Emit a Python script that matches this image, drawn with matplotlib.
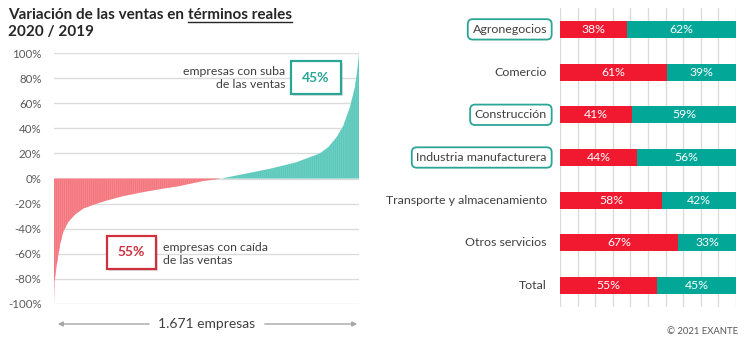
import matplotlib
matplotlib.use("Agg")
import matplotlib.pyplot as plt
from matplotlib.patches import Rectangle, FancyArrowPatch
from matplotlib.lines import Line2D
import numpy as np

plt.rcParams['font.family'] = ['Lato', 'DejaVu Sans']

# ---- Left panel: sales variation 2020/2019 per company, sorted ----
n_companies = 1671
rank = [0, 3, 15, 33, 51, 78, 115, 160, 215, 289, 380, 489, 599, 681, 816, 919,
        1005, 1090, 1183, 1256, 1330, 1403, 1457, 1503, 1549, 1585, 1622, 1649, 1664, 1671]
variation = [-100, -82, -69, -53, -42.5, -34.7, -28.8, -24, -21, -17.5, -14, -10.8, -8, -6.2, -2, 0,
             2.5, 5, 7.7, 10.3, 13, 17, 20, 25, 33, 42, 57, 73, 89, 100]
share_down = 55
share_up = 45
y_ticks = [-100, -80, -60, -40, -20, 0, 20, 40, 60, 80, 100]

# ---- Right panel: share of companies with falling / rising sales by sector ----
sectors = ["Agronegocios", "Comercio", "Construcción", "Industria manufacturera",
           "Transporte y almacenamiento", "Otros servicios", "Total"]
pct_down = [38, 61, 41, 44, 58, 67, 55]
pct_up = [62, 39, 59, 56, 42, 33, 45]
highlighted = ["Agronegocios", "Construcción", "Industria manufacturera"]

RED_L = "#F4767E"
RED_L_STRIPE = "#F68D93"
TEAL_L = "#5CC8BB"
TEAL_L_STRIPE = "#74D2C6"
RED = "#F0192F"
TEAL = "#02A797"
BOX_TEAL = "#2BA596"
BOX_RED = "#D02F3D"
GRID = "#DCDCDC"
TXT = "#404040"
TICK = "#595959"

W, H = 756, 345
fig = plt.figure(figsize=(W / 100, H / 100), dpi=100)


def fx(px):
    return px / W


def fy(py):
    return 1 - py / H


# Left axes
axL = fig.add_axes([fx(54), fy(304), fx(359) - fx(54), fy(53) - fy(304)])
axL.set_xlim(0, n_companies)
axL.set_ylim(-100, 100)
for yv in y_ticks:
    axL.axhline(yv, color=GRID, lw=1.0, zorder=0)
split = variation.index(0)
plt.rcParams['hatch.linewidth'] = 0.5
axL.fill_between(rank[:split + 1], variation[:split + 1], 0, facecolor=RED_L,
                 edgecolor=RED_L_STRIPE, hatch="||||||||", lw=0, zorder=2)
axL.fill_between(rank[split:], variation[split:], 0, facecolor=TEAL_L,
                 edgecolor=TEAL_L_STRIPE, hatch="||||||||", lw=0, zorder=2)
axL.set_yticks(y_ticks)
axL.set_yticklabels([f"{v}%" for v in y_ticks], fontsize=8.3, color=TICK)
axL.tick_params(axis='y', length=0, pad=9)
axL.set_xticks([])
for s in axL.spines.values():
    s.set_visible(False)

# Title with underlined part
TITLE_FS = 11
t1 = fig.text(fx(8), fy(19), "Variación de las ventas en", fontsize=TITLE_FS,
              fontweight='bold', color="#262626", va='baseline')
fig.text(fx(8), fy(36), "2020 / 2019", fontsize=TITLE_FS, fontweight='bold',
         color="#262626", va='baseline')
fig.canvas.draw()
renderer = fig.canvas.get_renderer()
bb1 = t1.get_window_extent(renderer)
t2 = fig.text((bb1.x1 + 4) / W, fy(19), "términos reales", fontsize=TITLE_FS,
              fontweight='bold', color="#262626", va='baseline')
fig.canvas.draw()
bb2 = t2.get_window_extent(renderer)
fig.add_artist(Line2D([bb2.x0 / W, bb2.x1 / W], [fy(21.5), fy(21.5)],
                      transform=fig.transFigure, color="#262626", lw=1.0))


def callout_box(x0, y0, x1, y1, color, label):
    shadow = Rectangle((fx(x0 + 2), fy(y1 + 2)), fx(x1) - fx(x0), fy(y0) - fy(y1),
                       transform=fig.transFigure, facecolor="#000000", alpha=0.12,
                       edgecolor='none', zorder=5)
    box = Rectangle((fx(x0), fy(y1)), fx(x1) - fx(x0), fy(y0) - fy(y1),
                    transform=fig.transFigure, facecolor="white", edgecolor=color,
                    lw=1.6, zorder=6)
    fig.add_artist(shadow)
    fig.add_artist(box)
    fig.text(fx((x0 + x1) / 2), fy((y0 + y1) / 2), label, color=color,
             fontsize=10, fontweight='bold', ha='center', va='center', zorder=7)


callout_box(291, 61, 341, 94, BOX_TEAL, f"{share_up}%")
fig.text(fx(285), fy(78), "empresas con suba\nde las ventas", fontsize=8.8,
         color=TXT, ha='right', va='center', linespacing=1.25)
callout_box(107, 236, 156, 269, BOX_RED, f"{share_down}%")
fig.text(fx(163), fy(254), "empresas con caída\nde las ventas", fontsize=8.8,
         color=TXT, ha='left', va='center', linespacing=1.25)

# Count arrow under the left panel
fig.text(fx(207), fy(324), f"{n_companies:,}".replace(",", ".") + " empresas",
         fontsize=10, color=TXT, ha='center', va='center')
arrow_kw = dict(arrowstyle="-|>", color="#A6A6A6", lw=1.0, mutation_scale=7)
fig.add_artist(FancyArrowPatch((fx(152), fy(324)), (fx(55), fy(324)),
                               transform=fig.transFigure, **arrow_kw))
fig.add_artist(FancyArrowPatch((fx(262), fy(324)), (fx(360), fy(324)),
                               transform=fig.transFigure, **arrow_kw))

# Right axes
axR = fig.add_axes([fx(560), fy(307), fx(736) - fx(560), fy(8) - fy(307)])
axR.set_xlim(0, 100)
axR.set_ylim(len(sectors) - 0.5, -0.5)
for xv in range(0, 101, 10):
    axR.axvline(xv, color=GRID, lw=1.0, zorder=0)
ypos = np.arange(len(sectors))
axR.barh(ypos, pct_down, height=0.4, color=RED, zorder=2)
axR.barh(ypos, pct_up, left=pct_down, height=0.4, color=TEAL, zorder=2)
for i, (d, u) in enumerate(zip(pct_down, pct_up)):
    axR.text(d / 2, i, f"{d}%", color="white", fontsize=8.8, ha='center', va='center', zorder=3)
    axR.text(d + u / 2, i, f"{u}%", color="white", fontsize=8.8, ha='center', va='center', zorder=3)
for i, name in enumerate(sectors):
    kw = {}
    if name in highlighted:
        kw['bbox'] = dict(boxstyle='round,pad=0.38,rounding_size=0.4', fc='white',
                          ec=BOX_TEAL, lw=1.3)
    axR.text(-7.4, i, name, fontsize=8.9, color=TXT, ha='right', va='center',
             transform=axR.transData, clip_on=False, **kw)
axR.set_xticks([])
axR.set_yticks([])
for s in axR.spines.values():
    s.set_visible(False)

fig.text(fx(738), fy(332), "© 2021 EXANTE", fontsize=6.8, color=TICK, ha='right', va='center')

fig.savefig("out.png", dpi=100)
